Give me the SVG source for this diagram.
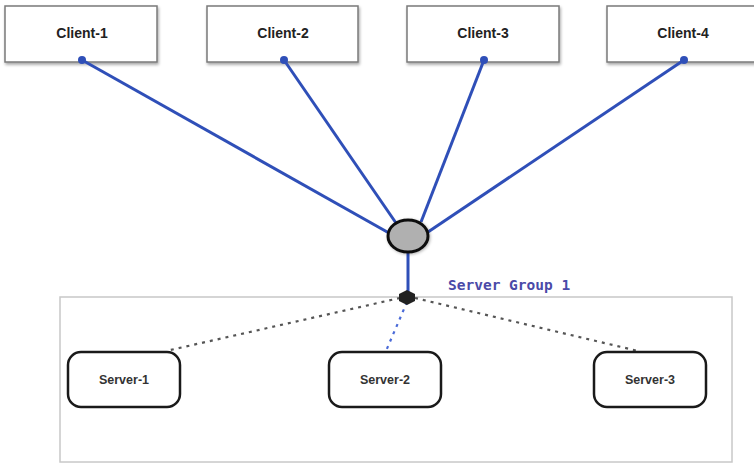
<svg xmlns="http://www.w3.org/2000/svg" width="754" height="464" viewBox="0 0 754 464">
<defs>
<filter id="sh" x="-10%" y="-10%" width="130%" height="140%">
<feDropShadow dx="1" dy="2" stdDeviation="1.5" flood-color="#000" flood-opacity="0.35"/>
</filter>
<filter id="sh2" x="-20%" y="-20%" width="150%" height="150%">
<feDropShadow dx="1" dy="1" stdDeviation="1.5" flood-color="#000" flood-opacity="0.3"/>
</filter>
</defs>
<style>
.client rect{fill:#fff;stroke:#7a7a7a;stroke-width:1.5}
.client text{font-family:"Liberation Sans",Arial,sans-serif;font-size:14px;font-weight:bold;fill:#222;text-anchor:middle}
.server rect{fill:#fff;stroke:#1a1a1a;stroke-width:2.5}
.server text{font-family:"Liberation Sans",Arial,sans-serif;font-size:12.5px;font-weight:bold;fill:#333;text-anchor:middle}
.link{stroke:#2f4fb8;stroke-width:3;fill:none}
.dot{fill:#2f4fb8}
.dash{stroke:#555;stroke-width:2.2;stroke-dasharray:3 5;fill:none}
.dashb{stroke:#4a6ad8;stroke-width:2.2;stroke-dasharray:3 5;fill:none}
</style>
<rect width="754" height="464" fill="#fff"/>
<g id="server-group-1">
<rect x="60" y="297" width="672" height="165" fill="#fff" stroke="#c8c8c8" stroke-width="1.5"/>
<text x="448" y="290" font-family="'DejaVu Sans Mono',monospace" font-size="14.5" font-weight="bold" fill="#4a4aa8">Server Group 1</text>
</g>
<g id="client-1" class="client">
<rect x="5" y="6" width="152" height="56" filter="url(#sh)"/>
<text x="82" y="38">Client-1</text>
</g>
<g id="client-2" class="client">
<rect x="207" y="6" width="151" height="56" filter="url(#sh)"/>
<text x="283" y="38">Client-2</text>
</g>
<g id="client-3" class="client">
<rect x="407" y="6" width="152" height="56" filter="url(#sh)"/>
<text x="483" y="38">Client-3</text>
</g>
<g id="client-4" class="client">
<rect x="607" y="6" width="152" height="56" filter="url(#sh)"/>
<text x="683" y="38">Client-4</text>
</g>
<g id="connectors">
<line class="link" x1="82" y1="60" x2="389" y2="233"/>
<line class="link" x1="284" y1="60" x2="396" y2="223"/>
<line class="link" x1="484" y1="60" x2="421" y2="222"/>
<line class="link" x1="684" y1="60" x2="428" y2="232"/>
<line class="link" x1="408" y1="252" x2="408" y2="296"/>
<circle class="dot" cx="82" cy="60" r="4"/>
<circle class="dot" cx="284" cy="60" r="4"/>
<circle class="dot" cx="484" cy="60" r="4"/>
<circle class="dot" cx="684" cy="60" r="4"/>
<path class="dash" d="M400 298 L166 351"/>
<path class="dash" d="M415 298 L638 351"/>
<path class="dashb" d="M407 302 L386 351"/>
</g>
<g id="hub">
<ellipse cx="408" cy="236" rx="20" ry="16" fill="#b0b0b0" stroke="#111" stroke-width="3" filter="url(#sh2)"/>
</g>
<g id="junction">
<polygon points="407,290 415,294 415,301 407,305 399,301 399,294" fill="#222"/>
</g>
<g id="server-1" class="server">
<rect x="68" y="352" width="112" height="55" rx="13"/>
<text x="124" y="384">Server-1</text>
</g>
<g id="server-2" class="server">
<rect x="329" y="352" width="112" height="55" rx="13"/>
<text x="385" y="384">Server-2</text>
</g>
<g id="server-3" class="server">
<rect x="594" y="352" width="112" height="55" rx="13"/>
<text x="650" y="384">Server-3</text>
</g>
</svg>
